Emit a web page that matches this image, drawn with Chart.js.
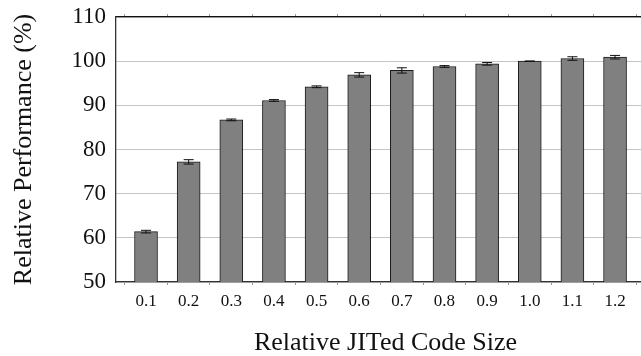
<!DOCTYPE html>
<html>
<head>
<meta charset="utf-8">
<script src="https://cdn.jsdelivr.net/npm/chart.js@4.4.1/dist/chart.umd.min.js"></script>
<style>
  html, body { margin: 0; padding: 0; background: #fff; overflow: hidden; }
  /* el eje sigue unos pixeles fuera del recorte derecho, como en la figura */
  #wrap { width: 655px; height: 356px; }
</style>
</head>
<body>
<div id="wrap"><canvas id="grafica"></canvas></div>
<script>
// Datos
const codeSizes = [0.1, 0.2, 0.3, 0.4, 0.5, 0.6, 0.7, 0.8, 0.9, 1.0, 1.1, 1.2];
const perfValues = [61.4, 77.2, 86.7, 91.1, 94.2, 96.9, 97.9, 98.8, 99.4, 100.0, 100.6, 100.9];
const perfErrors = [0.3, 0.5, 0.2, 0.2, 0.2, 0.5, 0.6, 0.2, 0.3, 0.0, 0.4, 0.4];
const yTicks = [50, 60, 70, 80, 90, 100, 110];

const SERIF = "'Liberation Serif', 'DejaVu Serif', serif";

// Rango del eje x
const X_MIN = 0.0296;
const X_MAX = 1.2937;

// Barras de error (usa las escalas de Chart.js)
const errorBars = {
  id: "errorBars",
  afterDatasetsDraw(chart) {
    const { ctx, scales } = chart;
    ctx.save();
    ctx.strokeStyle = "#111";
    ctx.lineWidth = 1;
    codeSizes.forEach((v, i) => {
      const x = scales.x.getPixelForValue(v);
      const yHi = scales.y.getPixelForValue(perfValues[i] + perfErrors[i]);
      const yLo = scales.y.getPixelForValue(perfValues[i] - perfErrors[i]);
      ctx.beginPath();
      ctx.moveTo(x, yHi); ctx.lineTo(x, yLo);
      ctx.moveTo(x - 5, yHi); ctx.lineTo(x + 5, yHi);
      ctx.moveTo(x - 5, yLo); ctx.lineTo(x + 5, yLo);
      ctx.stroke();
    });
    ctx.restore();
  },
};

const setXTicks = (axis) => { axis.ticks = codeSizes.map((v) => ({ value: v })); };

new Chart(document.getElementById("grafica"), {
  type: "bar",
  data: {
    datasets: [{
      data: codeSizes.map((v, i) => ({ x: v, y: perfValues[i] })),
      backgroundColor: "#808080",
      borderColor: "#1a1a1a",
      borderWidth: 1,
      barThickness: 23,
    }],
  },
  options: {
    responsive: true,
    maintainAspectRatio: false,
    animation: false,
    layout: { padding: 0 },
    plugins: { legend: { display: false }, tooltip: { enabled: false } },
    scales: {
      x: {
        type: "linear",
        position: "bottom",
        offset: false,
        min: X_MIN,
        max: X_MAX,
        afterBuildTicks: setXTicks,
        afterFit: (s) => { s.height = 74; s.paddingLeft = 0; s.paddingRight = 0; },
        border: { color: "#333", width: 1.3 },
        grid: { drawOnChartArea: false, drawTicks: true, tickLength: 3, color: "#999" },
        ticks: {
          padding: 6,
          color: "#111",
          font: { family: SERIF, size: 17 },
          callback: (v) => Number(v).toFixed(1),
        },
        title: {
          display: true,
          text: "Relative JITed Code Size",
          color: "#111",
          font: { family: SERIF, size: 26, lineHeight: 1 },
          padding: { top: 0, bottom: 0 },
        },
      },
      x2: {
        type: "linear",
        position: "top",
        offset: false,
        min: X_MIN,
        max: X_MAX,
        afterBuildTicks: setXTicks,
        afterFit: (s) => { s.height = 17; s.paddingLeft = 0; s.paddingRight = 0; },
        border: { color: "#111", width: 1.3 },
        grid: { drawOnChartArea: false, drawTicks: true, tickLength: 3, color: "#999" },
        ticks: { display: false },
      },
      y: {
        min: 50,
        max: 110,
        afterBuildTicks: (axis) => { axis.ticks = yTicks.map((v) => ({ value: v })); },
        afterFit: (s) => { s.width = 116; s.paddingTop = 0; s.paddingBottom = 0; },
        border: { color: "#333", width: 1.3 },
        grid: { color: "#c4c4c4", lineWidth: 1, drawTicks: false },
        ticks: {
          padding: 10,
          color: "#111",
          font: { family: SERIF, size: 23 },
        },
        title: {
          display: true,
          text: "Relative Performance (%)",
          color: "#111",
          font: { family: SERIF, size: 26, lineHeight: 1 },
          padding: { top: 11, bottom: 0 },
        },
      },
    },
  },
  plugins: [errorBars],
});
</script>
</body>
</html>
